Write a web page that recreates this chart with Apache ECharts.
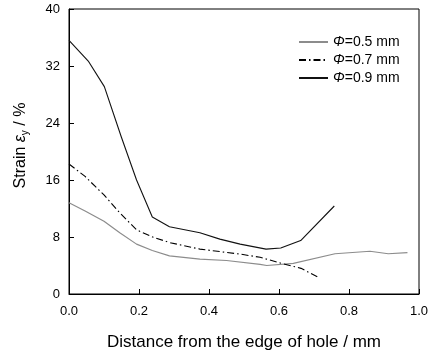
<!DOCTYPE html>
<html>
<head>
<meta charset="utf-8">
<script src="https://cdn.jsdelivr.net/npm/echarts@6/dist/echarts.min.js"></script>
<style>
    html, body { margin: 0; padding: 0; background: #fff; }
    #chart { width: 440px; height: 351px; }
</style>
</head>
<body>
<div id="chart"></div>
<script>
// 数据：距离孔边 (mm) 与应变 (%)
var names = ['Φ=0.5 mm', 'Φ=0.7 mm', 'Φ=0.9 mm'];
var x05 = [0, 0.046, 0.1, 0.145, 0.193, 0.238, 0.287, 0.374, 0.45, 0.546, 0.565, 0.641, 0.76, 0.86, 0.912, 0.967];
var y05 = [12.8, 11.65, 10.2, 8.6, 7.0, 6.1, 5.35, 4.9, 4.7, 4.15, 4.0, 4.3, 5.65, 6.0, 5.65, 5.8];
var x07 = [0, 0.046, 0.1, 0.145, 0.193, 0.241, 0.289, 0.374, 0.489, 0.546, 0.6, 0.663, 0.71];
var y07 = [18.25, 16.5, 13.9, 11.4, 9.0, 7.95, 7.2, 6.3, 5.6, 5.15, 4.4, 3.6, 2.4];
var x09 = [0, 0.055, 0.101, 0.149, 0.193, 0.238, 0.287, 0.374, 0.431, 0.489, 0.563, 0.605, 0.662, 0.758];
var y09 = [35.6, 32.7, 29.1, 22.1, 16.0, 10.8, 9.45, 8.6, 7.7, 7.0, 6.3, 6.45, 7.5, 12.35];

function pairs(xs, ys) {
    return xs.map(function (x, i) { return [x, ys[i]]; });
}

var font = 'Liberation Sans, Arial, sans-serif';
var myChart = echarts.init(document.getElementById('chart'));
myChart.setOption({
    animation: false,
    grid: {
        left: 69, right: 21, top: 9, bottom: 57,
        containLabel: false,
        outerBoundsMode: 'none',
        show: true, borderColor: '#000', borderWidth: 1
    },
    legend: {
        orient: 'vertical',
        left: 293,
        top: 30,
        itemWidth: 29,
        itemHeight: 14,
        itemGap: 4,
        data: names,
        itemStyle: { opacity: 0 },
        formatter: function (n) { return n.replace('Φ', '{i|Φ}'); },
        textStyle: {
            fontFamily: font, fontSize: 14, color: '#000',
            rich: { i: { fontFamily: font, fontSize: 14, fontStyle: 'italic', color: '#000' } }
        }
    },
    xAxis: {
        type: 'value',
        min: 0, max: 1, interval: 0.2,
        name: 'Distance from the edge of hole / mm',
        nameLocation: 'middle',
        nameGap: 40,
        nameTextStyle: { fontFamily: font, fontSize: 17, color: '#000' },
        axisLine: { lineStyle: { color: '#000', width: 1 } },
        axisTick: { inside: true, length: 5, lineStyle: { color: '#000' } },
        axisLabel: {
            margin: 11, fontFamily: font, fontSize: 13, color: '#000',
            formatter: function (v) { return v.toFixed(1); }
        },
        splitLine: { show: false }
    },
    yAxis: {
        type: 'value',
        min: 0, max: 40, interval: 8,
        name: 'Strain {e|ε}{s|y} / %',
        nameLocation: 'middle',
        nameRotate: 90,
        nameGap: 39,
        nameTextStyle: {
            fontFamily: font, fontSize: 16, color: '#000',
            padding: [0, 0, 0, 12],
            rich: {
                e: { fontFamily: font, fontSize: 16, fontStyle: 'italic', color: '#000' },
                s: { fontFamily: font, fontSize: 10, color: '#000', padding: [8, 0, 0, 0] }
            }
        },
        axisLine: { lineStyle: { color: '#000', width: 1 } },
        axisTick: { inside: true, length: 5, lineStyle: { color: '#000' } },
        axisLabel: { margin: 9, fontFamily: font, fontSize: 13, color: '#000' },
        splitLine: { show: false }
    },
    series: [
        {
            name: names[0], type: 'line', symbol: 'none',
            data: pairs(x05, y05),
            lineStyle: { color: '#8c8c8c', width: 1.2 },
            itemStyle: { color: '#8c8c8c' }
        },
        {
            name: names[1], type: 'line', symbol: 'none',
            data: pairs(x07, y07),
            lineStyle: { color: '#000', width: 1.1, type: [7, 3, 1.5, 3] },
            itemStyle: { color: '#000' }
        },
        {
            name: names[2], type: 'line', symbol: 'none',
            data: pairs(x09, y09),
            lineStyle: { color: '#111', width: 1.1 },
            itemStyle: { color: '#111' }
        }
    ]
});
</script>
</body>
</html>
